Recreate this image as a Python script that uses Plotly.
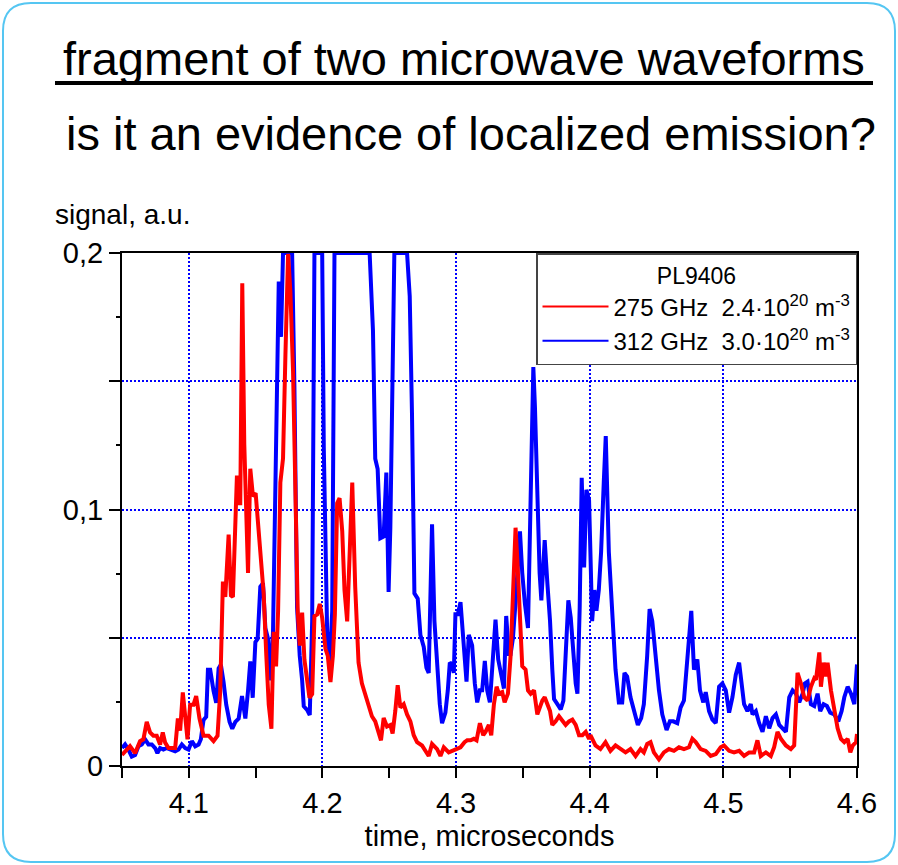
import plotly.graph_objects as go

# ---------------- data ----------------
red_t = [4.0500, 4.0560, 4.0598, 4.0635, 4.0660, 4.0685, 4.0710, 4.0735, 4.0760, 4.0785,
         4.0805, 4.0823, 4.0848, 4.0873, 4.0898, 4.0918, 4.0935, 4.0955, 4.0973, 4.0990,
         4.1010, 4.1035, 4.1055, 4.1080, 4.1110, 4.1148, 4.1185, 4.1215, 4.1235, 4.1255,
         4.1273, 4.1298, 4.1315, 4.1330, 4.1360, 4.1373, 4.1385, 4.1400, 4.1415, 4.1430,
         4.1443, 4.1460, 4.1480, 4.1500, 4.1523, 4.1540, 4.1560, 4.1580, 4.1598, 4.1618,
         4.1635, 4.1653, 4.1668, 4.1685, 4.1705, 4.1723, 4.1743, 4.1760, 4.1780, 4.1798,
         4.1815, 4.1830, 4.1848, 4.1865, 4.1885, 4.1903, 4.1923, 4.1940, 4.1960, 4.1980,
         4.1998, 4.2023, 4.2040, 4.2060, 4.2078, 4.2093, 4.2110, 4.2128, 4.2148, 4.2165,
         4.2185, 4.2205, 4.2223, 4.2245, 4.2270, 4.2295, 4.2320, 4.2345, 4.2370, 4.2395,
         4.2420, 4.2438, 4.2458, 4.2483, 4.2508, 4.2525, 4.2545, 4.2563, 4.2583, 4.2608,
         4.2633, 4.2658, 4.2683, 4.2708, 4.2745, 4.2778, 4.2795, 4.2820, 4.2858, 4.2883,
         4.2908, 4.2945, 4.2995, 4.3033, 4.3063, 4.3083, 4.3108, 4.3133, 4.3153, 4.3178,
         4.3203, 4.3220, 4.3245, 4.3263, 4.3283, 4.3303, 4.3320, 4.3345, 4.3363, 4.3388,
         4.3408, 4.3428, 4.3445, 4.3458, 4.3478, 4.3495, 4.3520, 4.3538, 4.3558, 4.3583,
         4.3608, 4.3628, 4.3645, 4.3663, 4.3683, 4.3703, 4.3720, 4.3745, 4.3770, 4.3795,
         4.3820, 4.3845, 4.3870, 4.3895, 4.3920, 4.3945, 4.3970, 4.3995, 4.4005, 4.4043,
         4.4080, 4.4118, 4.4155, 4.4193, 4.4230, 4.4268, 4.4305, 4.4343, 4.4380, 4.4405,
         4.4430, 4.4455, 4.4480, 4.4518, 4.4555, 4.4593, 4.4630, 4.4668, 4.4705, 4.4743,
         4.4768, 4.4793, 4.4830, 4.4868, 4.4905, 4.4943, 4.4980, 4.5005, 4.5043, 4.5080,
         4.5118, 4.5155, 4.5193, 4.5230, 4.5255, 4.5280, 4.5318, 4.5355, 4.5380, 4.5405,
         4.5430, 4.5468, 4.5505, 4.5530, 4.5555, 4.5580, 4.5605, 4.5630, 4.5655, 4.5680,
         4.5693, 4.5718, 4.5730, 4.5750, 4.5768, 4.5780, 4.5805, 4.5830, 4.5855, 4.5880,
         4.5905, 4.5930, 4.5950, 4.5968, 4.5993, 4.6000]
red_v = [0.0043, 0.0077, 0.0050, 0.0097, 0.0104, 0.0172, 0.0131, 0.0118, 0.0118, 0.0084,
         0.0131, 0.0091, 0.0070, 0.0070, 0.0070, 0.0185, 0.0138, 0.0287, 0.0185, 0.0104,
         0.0239, 0.0239, 0.0273, 0.0185, 0.0118, 0.0118, 0.0097, 0.0118, 0.0293, 0.0719,
         0.0659, 0.0902, 0.0665, 0.0659, 0.1132, 0.1024, 0.1024, 0.1882, 0.1254, 0.0943,
         0.0753, 0.1159, 0.1051, 0.1064, 0.0916, 0.0848, 0.0672, 0.0429, 0.0239, 0.0145,
         0.0523, 0.0388, 0.0604, 0.1105, 0.1199, 0.1605, 0.1997, 0.1849, 0.1538, 0.1064,
         0.0604, 0.0469, 0.0598, 0.0415, 0.0334, 0.0266, 0.0280, 0.0584, 0.0591, 0.0632,
         0.0577, 0.0456, 0.0429, 0.0327, 0.0429, 0.0591, 0.1024, 0.1044, 0.0916, 0.0686,
         0.0564, 0.0834, 0.1105, 0.0699, 0.0403, 0.0322, 0.0282, 0.0241, 0.0194, 0.0174,
         0.0133, 0.0100, 0.0187, 0.0154, 0.0160, 0.0127, 0.0214, 0.0315, 0.0228, 0.0241,
         0.0201, 0.0174, 0.0120, 0.0093, 0.0080, 0.0053, 0.0039, 0.0086, 0.0066, 0.0039,
         0.0073, 0.0053, 0.0066, 0.0073, 0.0093, 0.0100, 0.0100, 0.0106, 0.0100, 0.0167,
         0.0120, 0.0133, 0.0160, 0.0120, 0.0241, 0.0309, 0.0282, 0.0288, 0.0248, 0.0282,
         0.0430, 0.0767, 0.0929, 0.0807, 0.0619, 0.0389, 0.0376, 0.0295, 0.0282, 0.0295,
         0.0201, 0.0234, 0.0255, 0.0268, 0.0241, 0.0214, 0.0160, 0.0174, 0.0194, 0.0174,
         0.0160, 0.0174, 0.0181, 0.0160, 0.0120, 0.0120, 0.0133, 0.0106, 0.0120, 0.0080,
         0.0066, 0.0093, 0.0059, 0.0080, 0.0066, 0.0053, 0.0066, 0.0039, 0.0066, 0.0053,
         0.0086, 0.0093, 0.0053, 0.0026, 0.0053, 0.0066, 0.0059, 0.0073, 0.0066, 0.0073,
         0.0106, 0.0093, 0.0066, 0.0059, 0.0039, 0.0046, 0.0073, 0.0080, 0.0059, 0.0053,
         0.0059, 0.0039, 0.0053, 0.0053, 0.0100, 0.0039, 0.0053, 0.0039, 0.0073, 0.0133,
         0.0106, 0.0080, 0.0066, 0.0080, 0.0363, 0.0322, 0.0268, 0.0255, 0.0309, 0.0342,
         0.0336, 0.0443, 0.0309, 0.0403, 0.0349, 0.0403, 0.0295, 0.0228, 0.0147, 0.0106,
         0.0093, 0.0106, 0.0053, 0.0080, 0.0093, 0.0125]

blue_t = [4.0500, 4.0523, 4.0548, 4.0573, 4.0598, 4.0623, 4.0648, 4.0673, 4.0698, 4.0723,
          4.0748, 4.0765, 4.0785, 4.0810, 4.0835, 4.0860, 4.0898, 4.0923, 4.0948, 4.0973,
          4.0998, 4.1023, 4.1048, 4.1073, 4.1090, 4.1110, 4.1130, 4.1143, 4.1160, 4.1185,
          4.1205, 4.1223, 4.1240, 4.1260, 4.1280, 4.1305, 4.1325, 4.1348, 4.1373, 4.1398,
          4.1423, 4.1443, 4.1460, 4.1478, 4.1498, 4.1515, 4.1535, 4.1555, 4.1573, 4.1593,
          4.1610, 4.1630, 4.1645, 4.1660, 4.1673, 4.1690, 4.1705, 4.1773, 4.1790, 4.1810,
          4.1830, 4.1848, 4.1860, 4.1885, 4.1905, 4.1923, 4.1940, 4.1998, 4.2010, 4.2035,
          4.2055, 4.2073, 4.2090, 4.2353, 4.2378, 4.2395, 4.2413, 4.2433, 4.2458, 4.2478,
          4.2495, 4.2508, 4.2525, 4.2538, 4.2633, 4.2653, 4.2670, 4.2688, 4.2713, 4.2733,
          4.2758, 4.2778, 4.2795, 4.2820, 4.2838, 4.2858, 4.2878, 4.2895, 4.2920, 4.2938,
          4.2953, 4.2970, 4.2983, 4.2995, 4.3013, 4.3033, 4.3053, 4.3078, 4.3095, 4.3120,
          4.3140, 4.3158, 4.3178, 4.3195, 4.3215, 4.3233, 4.3253, 4.3275, 4.3295, 4.3315,
          4.3338, 4.3358, 4.3375, 4.3395, 4.3408, 4.3425, 4.3445, 4.3463, 4.3478, 4.3495,
          4.3515, 4.3538, 4.3558, 4.3578, 4.3590, 4.3608, 4.3625, 4.3638, 4.3650, 4.3663,
          4.3683, 4.3703, 4.3720, 4.3733, 4.3758, 4.3783, 4.3803, 4.3820, 4.3840, 4.3858,
          4.3878, 4.3895, 4.3908, 4.3925, 4.3940, 4.3958, 4.3975, 4.3995, 4.4005, 4.4018,
          4.4035, 4.4050, 4.4068, 4.4085, 4.4105, 4.4120, 4.4143, 4.4168, 4.4193, 4.4218,
          4.4243, 4.4260, 4.4280, 4.4305, 4.4330, 4.4360, 4.4385, 4.4405, 4.4430, 4.4448,
          4.4468, 4.4493, 4.4518, 4.4543, 4.4575, 4.4600, 4.4625, 4.4655, 4.4680, 4.4705,
          4.4735, 4.4760, 4.4780, 4.4805, 4.4825, 4.4850, 4.4868, 4.4893, 4.4918, 4.4943,
          4.4968, 4.4993, 4.5018, 4.5043, 4.5068, 4.5093, 4.5118, 4.5138, 4.5155, 4.5180,
          4.5205, 4.5218, 4.5243, 4.5268, 4.5293, 4.5318, 4.5343, 4.5368, 4.5393, 4.5418,
          4.5443, 4.5468, 4.5493, 4.5518, 4.5543, 4.5568, 4.5593, 4.5610, 4.5630, 4.5655,
          4.5680, 4.5705, 4.5725, 4.5750, 4.5775, 4.5800, 4.5830, 4.5860, 4.5885, 4.5905,
          4.5930, 4.5955, 4.5980, 4.6000]
blue_v = [0.0070, 0.0084, 0.0064, 0.0037, 0.0043, 0.0077, 0.0084, 0.0104, 0.0084, 0.0084,
          0.0070, 0.0050, 0.0070, 0.0064, 0.0070, 0.0064, 0.0057, 0.0064, 0.0084, 0.0070,
          0.0064, 0.0097, 0.0077, 0.0084, 0.0104, 0.0179, 0.0192, 0.0375, 0.0375, 0.0293,
          0.0246, 0.0381, 0.0395, 0.0327, 0.0239, 0.0172, 0.0145, 0.0172, 0.0185, 0.0273,
          0.0185, 0.0293, 0.0408, 0.0266, 0.0483, 0.0496, 0.0699, 0.0713, 0.0537, 0.0496,
          0.0334, 0.0523, 0.0997, 0.1510, 0.1889, 0.1673, 0.2000, 0.2000, 0.1483, 0.0618,
          0.0429, 0.0334, 0.0233, 0.0219, 0.0199, 0.0564, 0.2000, 0.2000, 0.1240, 0.0523,
          0.0402, 0.0604, 0.2000, 0.2000, 0.1697, 0.1198, 0.1158, 0.0888, 0.0895, 0.1144,
          0.0679, 0.0929, 0.1710, 0.2000, 0.2000, 0.1832, 0.1373, 0.0673, 0.0652, 0.0511,
          0.0464, 0.0383, 0.0363, 0.0942, 0.0565, 0.0389, 0.0241, 0.0167, 0.0208, 0.0295,
          0.0403, 0.0396, 0.0363, 0.0592, 0.0592, 0.0639, 0.0511, 0.0329, 0.0511, 0.0470,
          0.0322, 0.0248, 0.0295, 0.0295, 0.0410, 0.0295, 0.0248, 0.0410, 0.0571, 0.0416,
          0.0356, 0.0302, 0.0585, 0.0437, 0.0437, 0.0497, 0.0639, 0.0807, 0.0915, 0.0753,
          0.0632, 0.0538, 0.0996, 0.1555, 0.1400, 0.0996, 0.0753, 0.0646, 0.0753, 0.0881,
          0.0713, 0.0565, 0.0376, 0.0261, 0.0241, 0.0221, 0.0255, 0.0430, 0.0646, 0.0578,
          0.0430, 0.0322, 0.0282, 0.0619, 0.1124, 0.0774, 0.1077, 0.1036, 0.0834, 0.0565,
          0.0686, 0.0605, 0.0686, 0.0834, 0.1104, 0.1286, 0.0834, 0.0565, 0.0376, 0.0248,
          0.0248, 0.0363, 0.0349, 0.0268, 0.0214, 0.0160, 0.0187, 0.0241, 0.0430, 0.0612,
          0.0565, 0.0430, 0.0295, 0.0201, 0.0140, 0.0174, 0.0174, 0.0167, 0.0228, 0.0255,
          0.0470, 0.0605, 0.0376, 0.0416, 0.0295, 0.0248, 0.0288, 0.0214, 0.0181, 0.0167,
          0.0309, 0.0322, 0.0295, 0.0208, 0.0268, 0.0356, 0.0403, 0.0309, 0.0241, 0.0214,
          0.0241, 0.0201, 0.0214, 0.0167, 0.0133, 0.0194, 0.0147, 0.0187, 0.0201, 0.0160,
          0.0147, 0.0133, 0.0268, 0.0295, 0.0282, 0.0248, 0.0282, 0.0322, 0.0329, 0.0241,
          0.0234, 0.0282, 0.0214, 0.0241, 0.0234, 0.0208, 0.0201, 0.0174, 0.0214, 0.0268,
          0.0309, 0.0282, 0.0241, 0.0396]

x_tickvals = [4.1, 4.2, 4.3, 4.4, 4.5, 4.6]
x_ticktext = ["4.1", "4.2", "4.3", "4.4", "4.5", "4.6"]
y_tickvals = [0, 0.1, 0.2]
y_ticktext = ["0", "0,1", "0,2"]
y_small_ticks = [0.025, 0.075, 0.125, 0.175]

red_name = "275 GHz\u00a0\u00a02.4\u00b710<sup>20</sup> m<sup>-3</sup>"
blue_name = "312 GHz\u00a0\u00a03.0\u00b710<sup>20</sup> m<sup>-3</sup>"

# ---------------- layout geometry (pixels) ----------------
W, H = 898, 865
L, R, T, B = 122, 857, 253, 766
PW, PH = R - L, B - T


def px(x):
    return (x - L) / PW


def py(y):
    return (B - y) / PH


FONT = "Arial, Liberation Sans, Helvetica, sans-serif"
GRID = dict(showgrid=True, gridcolor="#0000FF", griddash="2px,2px", gridwidth=1.5)

fig = go.Figure()
fig.add_trace(go.Scatter(x=blue_t, y=blue_v, mode="lines", showlegend=False,
                         line=dict(color="#0000FF", width=4)))
fig.add_trace(go.Scatter(x=red_t, y=red_v, mode="lines", showlegend=False,
                         line=dict(color="#FF0000", width=4)))
# legend entries (thin sample lines as in the reference)
fig.add_trace(go.Scatter(x=[None], y=[None], mode="lines", name=red_name,
                         line=dict(color="#FF0000", width=2)))
fig.add_trace(go.Scatter(x=[None], y=[None], mode="lines", name=blue_name,
                         line=dict(color="#0000FF", width=2)))
# carrier for the short intermediate y ticks
fig.add_trace(go.Scatter(x=[None], y=[None], yaxis="y2", showlegend=False,
                         hoverinfo="skip"))

# rounded border
r = 28
x0b, x1b, y0b, y1b = 3, 895, 3, 862
pts = [("M", x0b + r, y0b), ("L", x1b - r, y0b), ("Q", x1b, y0b, x1b, y0b + r),
       ("L", x1b, y1b - r), ("Q", x1b, y1b, x1b - r, y1b), ("L", x0b + r, y1b),
       ("Q", x0b, y1b, x0b, y1b - r), ("L", x0b, y0b + r), ("Q", x0b, y0b, x0b + r, y0b)]
path = ""
for p in pts:
    cmd = p[0]
    coords = p[1:]
    s = []
    for i in range(0, len(coords), 2):
        s.append(f"{px(coords[i]):.5f},{py(coords[i + 1]):.5f}")
    path += cmd + " " + " ".join(s) + " "
path += "Z"

fig.update_layout(
    width=W, height=H,
    margin=dict(l=L, r=W - R, t=T, b=H - B, pad=0),
    paper_bgcolor="white", plot_bgcolor="white",
    font=dict(family=FONT, color="black", size=29),
    shapes=[
        dict(type="path", xref="paper", yref="paper", path=path,
             line=dict(color="#55C6F2", width=2), layer="below"),
        dict(type="line", xref="paper", yref="paper",
             x0=px(55), x1=px(873), y0=py(83), y1=py(83),
             line=dict(color="black", width=4)),
    ],
    annotations=[
        dict(text="fragment of two microwave waveforms", xref="paper", yref="paper",
             x=px(464), y=py(58), xanchor="center", yanchor="middle", showarrow=False,
             font=dict(size=47, family=FONT, color="black")),
        dict(text="is it an evidence of localized emission?", xref="paper", yref="paper",
             x=px(471), y=py(133), xanchor="center", yanchor="middle", showarrow=False,
             font=dict(size=47, family=FONT, color="black")),
        dict(text="signal, a.u.", xref="paper", yref="paper",
             x=px(53), y=py(215), xanchor="left", yanchor="middle", showarrow=False,
             font=dict(size=28, family=FONT, color="black")),
    ],
    legend=dict(
        x=1, y=1, xanchor="right", yanchor="top",
        bgcolor="white", bordercolor="#444444", borderwidth=1.5,
        font=dict(size=24, family=FONT, color="black"),
        title=dict(text="PL9406", side="top center",
                   font=dict(size=23, family=FONT, color="black")),
        tracegroupgap=0, itemwidth=66,
    ),
    xaxis=dict(
        range=[4.05, 4.6], tickmode="array", tickvals=x_tickvals, ticktext=x_ticktext,
        ticks="outside", ticklen=10, tickwidth=1.5, tickcolor="black",
        showline=True, mirror=True, linecolor="black", linewidth=2,
        zeroline=False, tickfont=dict(size=29),
        minor=dict(tick0=4.05, dtick=0.05, ticks="outside", ticklen=10, tickwidth=1.5,
                   tickcolor="black", showgrid=False),
        title=dict(text="time, microseconds", font=dict(size=29), standoff=8),
        **GRID,
    ),
    yaxis=dict(
        range=[0, 0.2], tickmode="array", tickvals=y_tickvals, ticktext=y_ticktext,
        ticks="outside", ticklen=11, tickwidth=1.5, tickcolor="black",
        showline=True, mirror=True, linecolor="black", linewidth=2,
        zeroline=False, tickfont=dict(size=29),
        minor=dict(tick0=0, dtick=0.05, ticks="outside", ticklen=11, tickwidth=1.5,
                   tickcolor="black", showgrid=True, gridcolor="#0000FF",
                   griddash="2px,2px", gridwidth=1.5),
        **GRID,
    ),
    yaxis2=dict(
        overlaying="y", side="left", anchor="x", range=[0, 0.2],
        tickmode="array", tickvals=y_small_ticks, showticklabels=False,
        ticks="outside", ticklen=5, tickwidth=1.5, tickcolor="black",
        showgrid=False, showline=False, zeroline=False,
    ),
)

fig.write_html("out.html")
